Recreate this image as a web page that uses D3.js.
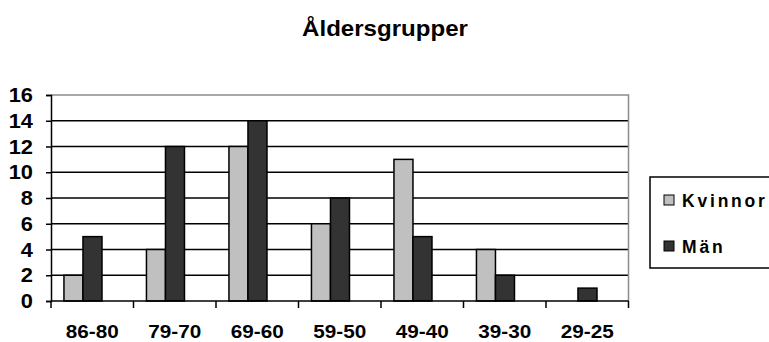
<!DOCTYPE html>
<html>
<head>
<meta charset="utf-8">
<title>Åldersgrupper</title>
<script src="https://cdn.jsdelivr.net/npm/d3@7"></script>
<style>
  body { margin: 0; background: #fff; }
  text { font-family: "Liberation Sans", Arial, sans-serif; font-weight: bold; fill: #000; }
</style>
</head>
<body>
<svg width="769" height="342"></svg>
<script>
// data
var categories = ["86-80", "79-70", "69-60", "59-50", "49-40", "39-30", "29-25"];
var series = ["Kvinnor", "Män"];
var kvinnor = [2, 4, 12, 6, 11, 4, 0];
var man = [5, 12, 14, 8, 5, 2, 1];
var yTicks = [0, 2, 4, 6, 8, 10, 12, 14, 16];
var colors = ["#c0c0c0", "#333333"];

var svg = d3.select("svg");
var plot = {left: 51, right: 628.5, top: 95, bottom: 301};

var x = d3.scaleBand()
  .domain(categories)
  .range([plot.left, plot.right])
  .paddingInner(0);
var bw = x.bandwidth();

// bars sit a bit left of the band centre, like the original
var xs = d3.scaleBand()
  .domain(series)
  .range([bw * 0.157, bw * 0.618]);

var y = d3.scaleLinear()
  .domain([0, 16])
  .range([plot.bottom, plot.top]);

// sx = horizontal stretch of the lettering in the source
function label(g, txt, tx, ty, size, anchor, sx) {
  return g.append("text")
    .attr("transform", "translate(" + tx + "," + ty + ") scale(" + sx + ",1)")
    .attr("font-size", size)
    .attr("text-anchor", anchor)
    .text(txt);
}

// title
label(svg, "Åldersgrupper", 385, 36, 21.5, "middle", 1.12);

// gridlines
svg.append("g")
  .selectAll("line")
  .data(yTicks.filter(function(d){ return d > 0 && d < 16; }))
  .enter()
  .append("line")
  .attr("x1", plot.left)
  .attr("x2", plot.right)
  .attr("y1", function(d){ return y(d); })
  .attr("y2", function(d){ return y(d); })
  .attr("stroke", "#000")
  .attr("stroke-width", 1.5);

// plot border (top + right), grey
svg.append("path")
  .attr("d", "M" + plot.left + "," + y(16) + "H" + plot.right + "V" + y(0))
  .attr("fill", "none")
  .attr("stroke", "#8c8c8c")
  .attr("stroke-width", 1.5);

// bars
var rows = series.map(function(s, i){
  var vals = i == 0 ? kvinnor : man;
  return categories.map(function(c, j){ return {s: s, c: c, v: vals[j], i: i}; });
});

svg.append("g")
  .selectAll("g")
  .data(rows)
  .enter()
  .append("g")
  .attr("fill", function(d, i){ return colors[i]; })
  .selectAll("rect")
  .data(function(d){ return d.filter(function(e){ return e.v > 0; }); })
  .enter()
  .append("rect")
  .attr("x", function(d){ return x(d.c) + xs(d.s); })
  .attr("width", xs.bandwidth())
  .attr("y", function(d){ return y(d.v); })
  .attr("height", function(d){ return y(0) - y(d.v); })
  .attr("stroke", "#000")
  .attr("stroke-width", 1.5);

// y axis
var yAxis = svg.append("g")
  .attr("transform", "translate(" + plot.left + ",0)")
  .call(d3.axisLeft(y).tickValues(yTicks).tickSize(5).tickFormat(""));
yAxis.select(".domain").attr("stroke", "#000").attr("stroke-width", 1.5);
yAxis.selectAll(".tick line").attr("stroke", "#000").attr("stroke-width", 1.5);

var yl = svg.append("g");
yTicks.forEach(function(t){
  label(yl, String(t), 33, y(t) + 7, 19.5, "end", 1.12);
});

// x axis: ticks on category boundaries
var xAxis = svg.append("g")
  .attr("transform", "translate(0," + plot.bottom + ")");
xAxis.append("line")
  .attr("x1", plot.left)
  .attr("x2", plot.right)
  .attr("stroke", "#000")
  .attr("stroke-width", 1.5);
xAxis.selectAll(".tk")
  .data(categories.concat(["end"]))
  .enter()
  .append("line")
  .attr("class", "tk")
  .attr("x1", function(d){ return d == "end" ? plot.right : x(d); })
  .attr("x2", function(d){ return d == "end" ? plot.right : x(d); })
  .attr("y1", 0)
  .attr("y2", 7)
  .attr("stroke", "#000")
  .attr("stroke-width", 1.5);

var xl = svg.append("g");
categories.forEach(function(c){
  label(xl, c, x(c) + bw / 2, 337.5, 18.5, "middle", 1.12);
});

// legend
var legend = svg.append("g");
legend.append("rect")
  .attr("x", 650)
  .attr("y", 177)
  .attr("width", 130)
  .attr("height", 91)
  .attr("fill", "#fff")
  .attr("stroke", "#000")
  .attr("stroke-width", 1.5);

series.forEach(function(s, i){
  var cy = 200 + i * 46;
  legend.append("rect")
    .attr("x", 664)
    .attr("y", cy - 5)
    .attr("width", 10)
    .attr("height", 10)
    .attr("fill", colors[i])
    .attr("stroke", "#000")
    .attr("stroke-width", 1);
  legend.append("text")
    .attr("x", 682)
    .attr("y", cy + 6.5)
    .attr("font-size", 17.5)
    .attr("letter-spacing", 2.8)
    .text(s);
});
</script>
</body>
</html>
